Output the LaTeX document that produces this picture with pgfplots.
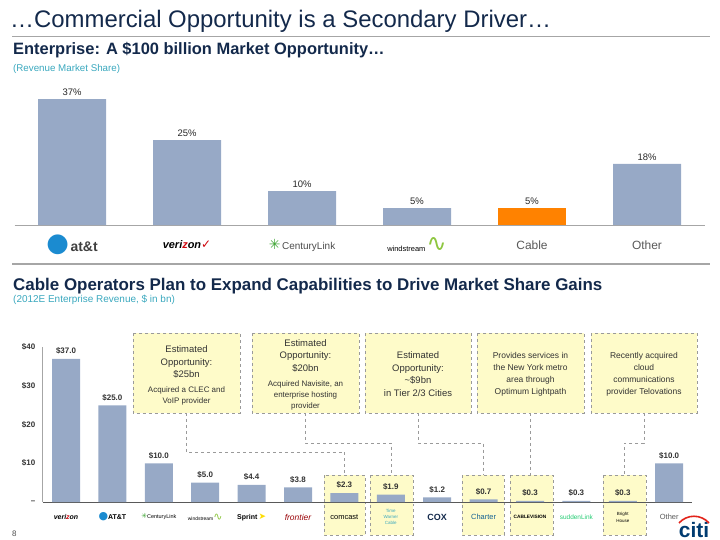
\documentclass[border=0pt]{standalone}
\usepackage{pgfplots}
\pgfplotsset{compat=1.18}
\usepackage{fontspec}
\setmainfont{Liberation Sans}
\newfontfamily\sym{DejaVu Sans}
\definecolor{barblue}{HTML}{97A9C6}
\definecolor{barorange}{HTML}{FF8200}
\definecolor{navy}{HTML}{13294B}
\definecolor{tealc}{HTML}{3AA8BE}
\definecolor{boxfill}{HTML}{FEFBC9}
\definecolor{boxedge}{HTML}{9A9A9A}
\definecolor{linegray}{HTML}{A6A6A6}
\definecolor{txtgray}{HTML}{595959}
\definecolor{attblue}{HTML}{1B8BD0}
\definecolor{vzred}{HTML}{CD040B}
\definecolor{clgreen}{HTML}{3FA535}
\definecolor{wsgreen}{HTML}{8DC63F}
\definecolor{citired}{HTML}{E2231A}
\definecolor{citiblue}{HTML}{003B70}
\newcommand{\fs}[1]{\fontsize{#1}{#1}\selectfont}
\newcommand{\fsb}[2]{\fontsize{#1}{#2}\selectfont}
\begin{document}
\begin{tikzpicture}
\useasboundingbox (0,0) rectangle (720bp,-540bp);
\begin{scope}[x=1bp,y=-1bp]
  \tikzset{ybox/.style={fill=boxfill, draw=boxedge, dashed, line width=0.6pt}}
  % connectors
  \draw[boxedge, dashed, line width=0.6pt] (186.5,413) -- (186.5,452) -- (344.5,452) -- (344.5,475);
  \draw[boxedge, dashed, line width=0.6pt] (305.5,413) -- (305.5,443) -- (391.5,443) -- (391.5,475);
  \draw[boxedge, dashed, line width=0.6pt] (418,413) -- (418,443) -- (483,443) -- (483,475);
  \draw[boxedge, dashed, line width=0.6pt] (530.5,413) -- (530.5,475);
  \draw[boxedge, dashed, line width=0.6pt] (644,413) -- (644,443) -- (624.5,443) -- (624.5,475);
  % upper boxes
  \foreach \a/\b in {133/240,252/359,365/471,477/584,591/697}
    \draw[ybox] (\a,333) rectangle (\b,413);
  % boxes around bars
  \foreach \a/\b in {324/365,370/413,462/504,510/553,603/646}
    \draw[ybox] (\a,475) rectangle (\b,535);
\end{scope}

% ---------- top chart ----------
\begin{axis}[
  at={(14.5bp,-225bp)}, anchor=south west, scale only axis,
  width=690bp, height=136bp,
  xmin=-0.5, xmax=5.5, ymin=0, ymax=40,
  axis y line=none, axis x line*=bottom,
  x axis line style={linegray, line width=0.9pt},
  xtick={0,...,5}, major tick length=0pt,
  xticklabels={
    {\textcolor{attblue}{\sym\fs{26}●}\,{\fs{14}\bfseries\textcolor{black!75}{at\&t}}},
    {\fs{11}\bfseries\itshape veri\textcolor{vzred}{z}on\textcolor{vzred}{\sym\fs{12}✓}},
    {\textcolor{clgreen}{\sym\fs{14}✳}\,{\fs{10}\textcolor{black!70}{CenturyLink}}},
    {\fs{7.5}windstream\,\textcolor{wsgreen}{\sym\fs{24}∿}},
    {\fs{12}\textcolor{txtgray}{Cable}},
    {\fs{12}\textcolor{txtgray}{Other}}},
  xticklabel style={anchor=center, yshift=-20bp},
  ytick=\empty,
  ybar, bar width=68bp, bar shift=0pt,
  /pgf/number format/assume math mode=true,
  nodes near coords={\pgfmathprintnumber{\pgfplotspointmeta}\%},
  every node near coord/.append style={font=\fs{9.5}, text=black!85},
  clip=false,
]
\addplot[fill=barblue, draw=none] coordinates {(0,37) (1,25) (2,10) (3,5) (5,18)};
\addplot[fill=barorange, draw=none] coordinates {(4,5)};
\end{axis}

% ---------- bottom chart ----------
\begin{axis}[
  at={(42.8bp,-502bp)}, anchor=south west, scale only axis,
  width=649.6bp, height=154.8bp,
  xmin=-0.5, xmax=13.5, ymin=0, ymax=40,
  axis x line*=bottom, axis y line*=left,
  x axis line style={black!65, line width=0.9pt},
  y axis line style={linegray, line width=0.9pt},
  xtick={0,...,13}, major tick length=0pt,
  ytick={0,10,20,30,40}, yticklabels={--,\$10,\$20,\$30,\$40},
  yticklabel style={font=\fs{8}\bfseries, text=black!80, xshift=-4bp},
  xticklabels={
    {\fs{7}\bfseries\itshape veri\textcolor{vzred}{z}on},
    {\textcolor{attblue}{\sym\fs{11}●}{\fs{7}\bfseries AT\&T}},
    {\textcolor{clgreen}{\sym\fs{7}✳}{\fs{5.5}CenturyLink}},
    {\fs{5}windstream\textcolor{wsgreen}{\sym\fs{11}∿}},
    {\fs{7}\bfseries Sprint\,\textcolor{yellow!80!orange}{\sym\fs{9}➤}},
    {\fs{8.5}\itshape\textcolor{vzred!75!black}{frontier}},
    {\fs{7.5}comcast},
    {\fsb{4.5}{5}\color{tealc}\shortstack{Time\\Warner\\Cable}},
    {\fs{9}\bfseries\textcolor{navy}{COX}},
    {\fs{7.5}\textcolor{attblue!70!black}{Charter}},
    {\fs{4.8}\bfseries CABLEVISION},
    {\fs{6.5}\textcolor{tealc!60!green}{suddenLink}},
    {\fsb{4.5}{5}\shortstack{Bright\\House}},
    {\fs{7.5}\textcolor{txtgray}{Other}}},
  xticklabel style={anchor=center, yshift=-15bp},
  ybar, bar width=28bp, bar shift=0pt,
  /pgf/number format/assume math mode=true,
  nodes near coords={\$\pgfmathprintnumber[fixed,fixed zerofill,precision=1]{\pgfplotspointmeta}},
  every node near coord/.append style={font=\fs{8}\bfseries, text=black!80, yshift=1bp},
  clip=false,
]
\addplot[fill=barblue, draw=none] coordinates {
  (0,37.0) (1,25.0) (2,10.0) (3,5.0) (4,4.4) (5,3.8) (6,2.3)
  (7,1.9) (8,1.2) (9,0.7) (10,0.3) (11,0.3) (12,0.3) (13,10.0)};
\end{axis}

\begin{scope}[x=1bp,y=-1bp]
  % titles
  \node[anchor=base west, inner sep=0, text=navy] at (10,27) {\fs{24}…Commercial Opportunity is a Secondary Driver…};
  \draw[linegray, line width=1pt] (12,36.5) -- (710,36.5);
  \node[anchor=base west, inner sep=0, text=navy] at (13,54) {\fs{16.5}\bfseries Enterprise: A \$100 billion Market Opportunity…};
  \node[anchor=base west, inner sep=0, text=tealc] at (13,71.5) {\fs{9.8}(Revenue Market Share)};
  \draw[linegray, line width=2pt] (12,264) -- (710,264);
  \node[anchor=base west, inner sep=0, text=navy] at (13,290) {\fs{17}\bfseries Cable Operators Plan to Expand Capabilities to Drive Market Share Gains};
  \node[anchor=base west, inner sep=0, text=tealc] at (13,302) {\fs{10}(2012E Enterprise Revenue, \$ in bn)};
  % box texts
  \tikzset{bt/.style={align=center, inner sep=0, text=black!80},
           big/.style={font=\fsb{9.5}{12.5}}, small/.style={font=\fsb{8}{11}},
           mid/.style={font=\fsb{8.5}{12}}}
  \node[bt,big] at (186.5,362) {Estimated\\Opportunity:\\\$25bn};
  \node[bt,small] at (186.5,395.5) {Acquired a CLEC and\\VoIP provider};
  \node[bt,big] at (305.5,355.5) {Estimated\\Opportunity:\\\$20bn};
  \node[bt,small] at (305.5,395) {Acquired Navisite, an\\enterprise hosting\\provider};
  \node[bt,big] at (418,374) {Estimated\\Opportunity:\\\textasciitilde\$9bn\\in Tier 2/3 Cities};
  \node[bt,mid] at (530.5,374) {Provides services in\\the New York metro\\area through\\Optimum Lightpath};
  \node[bt,mid] at (644,374) {Recently acquired\\cloud\\communications\\provider Telovations};
  % page number and logo
  \node[anchor=base west, inner sep=0, text=black!70] at (12,536) {\fs{8}8};
  \node[anchor=base, inner sep=0, text=citiblue] at (694,537) {\fs{21}\bfseries citi};
  \draw[citired, line width=1.6pt] (679,523) .. controls (687,514) and (701,514) .. (709,523);
\end{scope}
\end{tikzpicture}
\end{document}
